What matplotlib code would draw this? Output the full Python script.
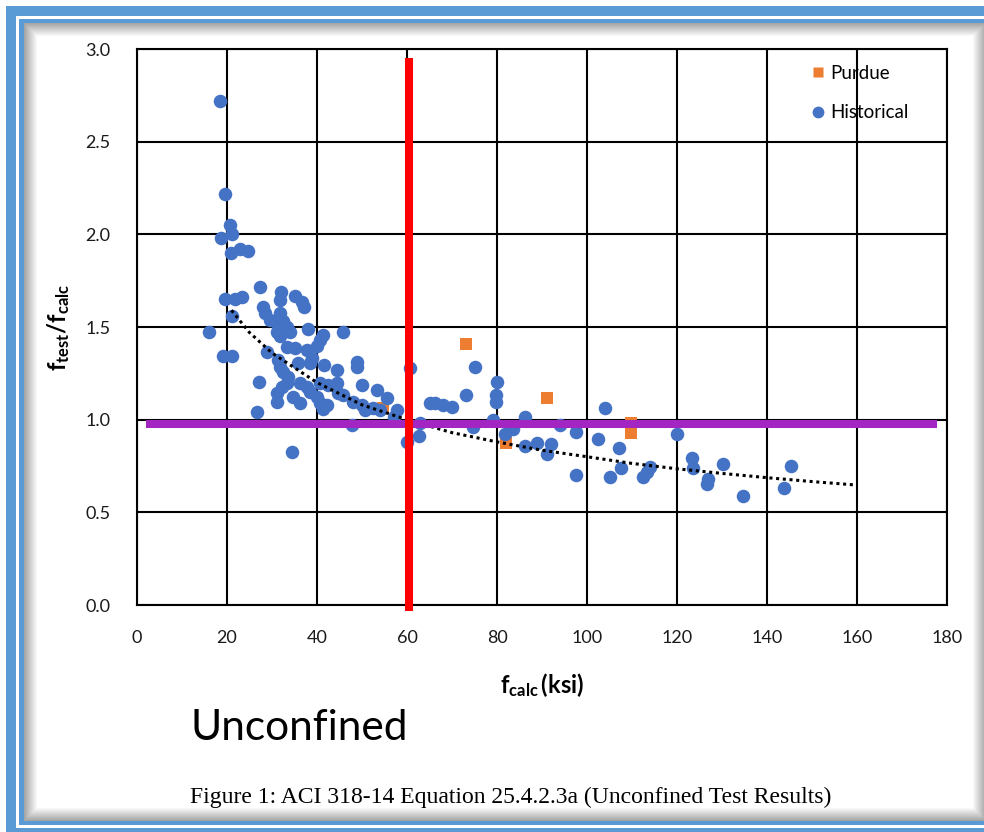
import numpy as np
import matplotlib
matplotlib.use("Agg")
import matplotlib.pyplot as plt
from matplotlib.patches import Rectangle
from matplotlib.lines import Line2D

plt.rcParams['font.family'] = ['Lato', 'DejaVu Sans']
plt.rcParams['mathtext.fontset'] = 'custom'
plt.rcParams['mathtext.rm'] = 'Lato'
plt.rcParams['mathtext.bf'] = 'Lato:bold'
plt.rcParams['mathtext.it'] = 'Lato:italic'

# historical tests (f_calc in ksi, f_test/f_calc)
hist_x = [18.4, 19.6, 20.7, 18.6, 21.0, 20.9, 22.9, 24.7, 27.3, 19.6, 21.8, 23.3,
          21.0, 16.1, 19.2, 21.0, 32.1, 31.8, 35.1, 36.6, 37.0, 28.1, 28.4, 31.8,
          32.4, 29.6, 31.0, 33.3, 34.0, 31.0, 31.8, 38.1, 41.4, 40.7, 39.9, 45.8,
          33.3, 35.1, 28.8, 37.7, 38.8, 38.4, 31.4, 31.8, 32.5, 33.6, 35.8, 41.6,
          44.4, 48.8, 48.8, 49.9, 27.0, 33.3, 32.2, 31.0, 31.0, 36.2, 37.7, 38.4,
          40.7, 42.5, 44.4, 44.7, 34.7, 36.2, 39.9, 40.7, 41.4, 42.2, 45.8, 48.1,
          49.9, 50.7, 52.5, 53.3, 55.5, 54.0, 57.7, 57.0, 26.7, 47.7, 34.4, 60.7,
          59.9, 62.7, 62.9, 65.1, 75.1, 80.1, 79.8, 79.8, 66.2, 68.1, 69.9, 73.1,
          104.0, 74.7, 79.0, 81.8, 83.6, 86.2, 86.2, 88.9, 92.1, 91.2, 94.0, 97.6,
          97.6, 102.5, 107.2, 107.5, 105.0, 112.5, 113.3, 114.0, 120.1, 123.3, 123.6, 126.9,
          126.7, 130.3, 134.6, 143.8, 145.3]
hist_y = [2.72, 2.22, 2.05, 1.98, 2.00, 1.90, 1.92, 1.91, 1.715, 1.65, 1.65, 1.66,
          1.56, 1.475, 1.344, 1.344, 1.69, 1.646, 1.667, 1.637, 1.61, 1.61, 1.574, 1.576,
          1.53, 1.54, 1.52, 1.50, 1.475, 1.475, 1.45, 1.488, 1.457, 1.43, 1.40, 1.475,
          1.394, 1.385, 1.367, 1.376, 1.331, 1.304, 1.322, 1.286, 1.259, 1.232, 1.304, 1.295,
          1.268, 1.313, 1.286, 1.187, 1.205, 1.196, 1.178, 1.142, 1.097, 1.196, 1.178, 1.151,
          1.196, 1.187, 1.196, 1.142, 1.124, 1.088, 1.124, 1.088, 1.06, 1.079, 1.133, 1.097,
          1.079, 1.052, 1.061, 1.16, 1.115, 1.052, 1.052, 1.016, 1.043, 0.971, 0.827, 1.277,
          0.881, 0.912, 0.981, 1.088, 1.283, 1.205, 1.133, 1.097, 1.092, 1.079, 1.067, 1.133,
          1.061, 0.962, 0.998, 0.921, 0.948, 1.016, 0.858, 0.876, 0.867, 0.813, 0.971, 0.935,
          0.702, 0.894, 0.849, 0.741, 0.689, 0.689, 0.719, 0.747, 0.921, 0.792, 0.738, 0.678,
          0.653, 0.759, 0.59, 0.633, 0.752]

# purdue tests
purdue_x = [54.7, 73.0, 91.2, 82.0, 109.7, 109.7]
purdue_y = [1.065, 1.408, 1.115, 0.873, 0.98, 0.927]

# power trendline
trend_x = [21, 25, 30, 40, 50, 60, 70, 80, 90, 100, 110, 120, 130, 140, 150, 160]
trend_y = [1.59, 1.47, 1.36, 1.20, 1.08, 1.00, 0.93, 0.88, 0.835, 0.80, 0.764, 0.735,
           0.71, 0.687, 0.666, 0.647]

# drawn marker lines
limit_x = [60.5, 60.5]
limit_y = [-0.035, 2.95]
unity_x = [1.9, 177.7]
unity_y = [0.975, 0.975]

x_ticks = np.arange(0, 181, 20)
y_ticks = np.arange(0, 3.01, 0.5)

blue = '#4472C4'
orange = '#ED7D31'
frame_blue = '#5B9BD5'

fig = plt.figure(figsize=(9.84, 8.32), dpi=100)

# frame drawn in pixel coords
bg = fig.add_axes([0, 0, 1, 1], zorder=-10)
bg.set_xlim(0, 984)
bg.set_ylim(832, 0)
bg.axis('off')
bg.add_patch(Rectangle((6, 6), 1000, 840, color=frame_blue, lw=0))
bg.add_patch(Rectangle((16, 16), 990, 812, color='white', lw=0))
bg.add_patch(Rectangle((19, 19), 990, 806, color=frame_blue, lw=0))
bg.add_patch(Rectangle((24, 23), 962, 798, color='#9a9a9a', lw=0))
for i in range(14):
    g = 0.62 + 0.38 * (i + 1) / 14
    bg.add_patch(Rectangle((24 + i, 23 + i), 962 - 2 * i, 798 - 2 * i,
                           color=(g, g, g), lw=0))

ax = fig.add_axes([137 / 984, 227 / 832, 810 / 984, 556 / 832])

ax.scatter(purdue_x, purdue_y, marker='s', s=68, color=orange, lw=0, zorder=3)
ax.scatter(hist_x, hist_y, marker='o', s=95, color=blue, lw=0, zorder=4)
ax.plot(trend_x, trend_y, color='black', ls=(0, (1, 1.2)), lw=2.2, zorder=5)
ax.plot(unity_x, unity_y, color='#A326C2', lw=5.8, solid_capstyle='butt', zorder=6,
        clip_on=False)
ax.plot(limit_x, limit_y, color='#FF0000', lw=5.8, solid_capstyle='butt', zorder=7,
        clip_on=False)

ax.set_xlim(0, 180)
ax.set_ylim(0, 3.0)
ax.set_xticks(x_ticks)
ax.set_yticks(y_ticks)
ax.set_yticklabels(['%.1f' % v for v in y_ticks])
ax.grid(True, color='black', lw=1.5)
ax.set_axisbelow(True)
for s in ax.spines.values():
    s.set_linewidth(1.5)
ax.tick_params(length=0, labelsize=13, colors='#1a1a1a', pad=18)
ax.tick_params(axis='y', pad=19)

ax.set_xlabel(r'$\mathbf{f_{calc}\,(ksi)}$', fontsize=17, labelpad=18)
ax.set_ylabel(r'$\mathbf{f_{test}/f_{calc}}$', fontsize=17, labelpad=10)

handles = [Line2D([], [], marker='s', ls='', color=orange, ms=7.5, mec='none'),
           Line2D([], [], marker='o', ls='', color=blue, ms=8.5, mec='none')]
leg = ax.legend(handles, ['Purdue', 'Historical'], loc='upper left',
                bbox_to_anchor=(0.824, 0.985), frameon=False, fontsize=13.5,
                handlelength=0.6, handletextpad=0.4, labelspacing=1.2,
                borderaxespad=0)
leg.set_zorder(10)

fig.text(190 / 984, 1 - 728 / 832, 'Unconfined', fontsize=30.5, va='center', ha='left')
fig.text(190 / 984, 1 - 797 / 832,
         'Figure 1: ACI 318-14 Equation 25.4.2.3a (Unconfined Test Results)',
         family=['Liberation Serif'], fontsize=17, va='center', ha='left')

fig.savefig('out.png', dpi=100)
